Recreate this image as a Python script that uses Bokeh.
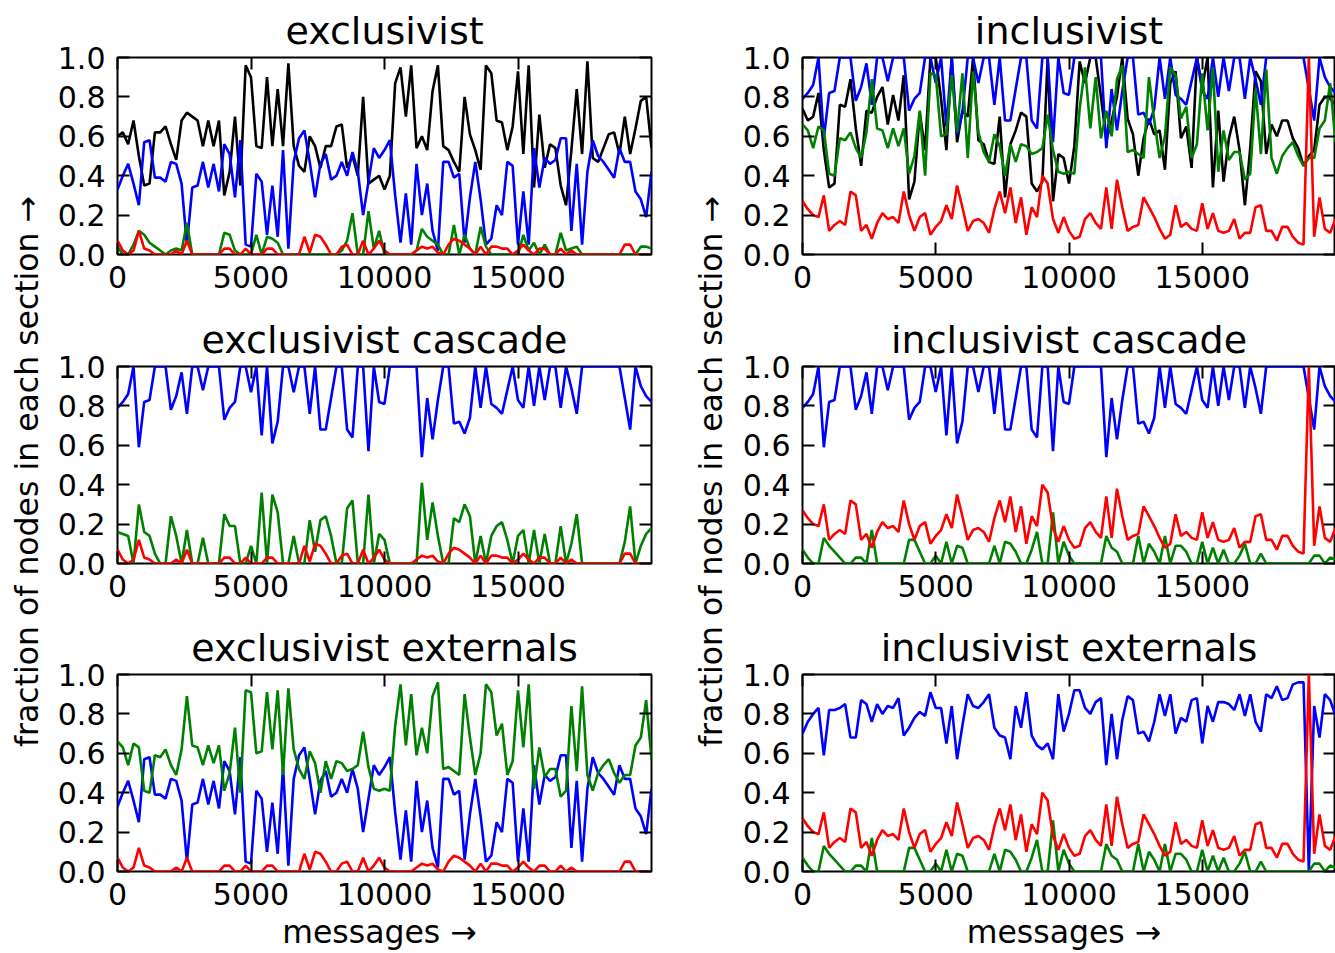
import math
from bokeh.plotting import figure
from bokeh.layouts import row, column
from bokeh.models import Range1d, LinearAxis, FixedTicker, PrintfTickFormatter, Label
from bokeh.embed import file_html
from bokeh.resources import INLINE

# ---------------- data ----------------
messages = list(range(0, 20001, 200))
x_ticks = [0, 5000, 10000, 15000]
y_ticks = [0.0, 0.2, 0.4, 0.6, 0.8, 1.0]

excl_black = [0.60, 0.62, 0.56, 0.68, 0.50, 0.35, 0.36, 0.62, 0.62, 0.65, 0.56,
              0.48, 0.68, 0.72, 0.70, 0.68, 0.55, 0.68, 0.55, 0.68, 0.30,
              0.42, 0.70, 0.35, 0.96, 0.90, 0.55, 0.54, 0.90, 0.55, 0.84,
              0.55, 0.97, 0.55, 0.45, 0.42, 0.60, 0.55, 0.44, 0.55, 0.55,
              0.65, 0.66, 0.44, 0.50, 0.40, 0.80, 0.36, 0.38, 0.40, 0.33,
              0.40, 0.87, 0.95, 0.70, 0.96, 0.54, 0.60, 0.53, 0.83, 0.96,
              0.55, 0.53, 0.47, 0.42, 0.80, 0.61, 0.53, 0.43, 0.96, 0.92,
              0.68, 0.67, 0.53, 0.65, 0.93, 0.51, 0.96, 0.34, 0.71, 0.44,
              0.56, 0.54, 0.35, 0.25, 0.53, 0.84, 0.51, 0.98, 0.49, 0.47,
              0.54, 0.61, 0.62, 0.51, 0.70, 0.51, 0.64, 0.78, 0.80, 0.54]

excl_blue = [0.33, 0.40, 0.46, 0.36, 0.25, 0.57, 0.58, 0.39, 0.39, 0.37, 0.47,
             0.46, 0.36, 0.05, 0.34, 0.35, 0.47, 0.34, 0.46, 0.32, 0.56,
             0.51, 0.29, 0.58, 0.05, 0.04, 0.41, 0.37, 0.10, 0.35, 0.09,
             0.53, 0.03, 0.47, 0.59, 0.63, 0.47, 0.29, 0.46, 0.51, 0.38,
             0.40, 0.47, 0.40, 0.52, 0.42, 0.20, 0.37, 0.54, 0.49, 0.53,
             0.58, 0.30, 0.06, 0.31, 0.05, 0.46, 0.20, 0.36, 0.12, 0.02,
             0.47, 0.47, 0.39, 0.41, 0.06, 0.29, 0.47, 0.28, 0.05, 0.08,
             0.25, 0.20, 0.47, 0.45, 0.05, 0.32, 0.05, 0.54, 0.34, 0.49,
             0.46, 0.48, 0.59, 0.59, 0.12, 0.46, 0.05, 0.42, 0.58, 0.50,
             0.47, 0.43, 0.39, 0.54, 0.47, 0.47, 0.32, 0.28, 0.19, 0.42]

excl_green = [0.04, 0.00, 0.00, 0.05, 0.12, 0.10, 0.06, 0.04, 0.02, 0.00, 0.02,
              0.03, 0.02, 0.16, 0.00, 0.00, 0.00, 0.00, 0.00, 0.00, 0.11,
              0.10, 0.02, 0.00, 0.00, 0.00, 0.10, 0.00, 0.09, 0.08, 0.06,
              0.00, 0.00, 0.00, 0.00, 0.00, 0.00, 0.00, 0.00, 0.00, 0.00,
              0.00, 0.02, 0.07, 0.21, 0.00, 0.00, 0.22, 0.03, 0.12, 0.00,
              0.00, 0.00, 0.00, 0.00, 0.00, 0.02, 0.13, 0.09, 0.07, 0.05,
              0.00, 0.00, 0.15, 0.00, 0.10, 0.03, 0.00, 0.14, 0.04, 0.00,
              0.00, 0.00, 0.00, 0.00, 0.00, 0.10, 0.02, 0.06, 0.00, 0.05,
              0.00, 0.00, 0.11, 0.02, 0.03, 0.04, 0.00, 0.00, 0.00, 0.00,
              0.00, 0.00, 0.00, 0.00, 0.00, 0.00, 0.00, 0.04, 0.04, 0.03]

excl_red = [0.07, 0.02, 0.00, 0.02, 0.12, 0.03, 0.02, 0.00, 0.00, 0.00, 0.00,
            0.02, 0.00, 0.07, 0.00, 0.00, 0.00, 0.00, 0.00, 0.00, 0.03,
            0.03, 0.00, 0.00, 0.03, 0.00, 0.00, 0.00, 0.03, 0.03, 0.00,
            0.00, 0.00, 0.00, 0.00, 0.09, 0.01, 0.10, 0.09, 0.05, 0.00,
            0.00, 0.04, 0.05, 0.00, 0.00, 0.07, 0.00, 0.03, 0.07, 0.02,
            0.00, 0.00, 0.00, 0.00, 0.00, 0.02, 0.04, 0.03, 0.04, 0.01,
            0.00, 0.05, 0.08, 0.07, 0.05, 0.03, 0.00, 0.04, 0.00, 0.04,
            0.04, 0.03, 0.03, 0.00, 0.02, 0.05, 0.02, 0.00, 0.03, 0.03,
            0.00, 0.00, 0.03, 0.00, 0.02, 0.00, 0.00, 0.00, 0.00, 0.00,
            0.00, 0.00, 0.00, 0.00, 0.05, 0.05, 0.00, 0.00, 0.00, 0.00]

casc_blue = [0.79, 0.82, 0.86, 1.00, 0.59, 0.82, 0.83, 1.00, 1.00, 1.00, 0.78,
             0.85, 0.97, 0.76, 1.00, 1.00, 0.88, 1.00, 1.00, 1.00, 0.73,
             0.79, 0.82, 1.00, 1.00, 0.87, 1.00, 0.65, 1.00, 0.61, 0.72,
             1.00, 1.00, 0.87, 1.00, 1.00, 0.76, 1.00, 0.68, 0.68, 0.84,
             1.00, 1.00, 0.68, 0.64, 1.00, 1.00, 0.57, 1.00, 0.82, 0.81,
             1.00, 1.00, 1.00, 1.00, 1.00, 1.00, 0.54, 0.84, 0.63, 0.83,
             1.00, 1.00, 0.71, 0.72, 0.66, 0.74, 1.00, 0.79, 1.00, 0.81,
             0.79, 0.76, 0.88, 1.00, 0.83, 0.79, 1.00, 0.80, 1.00, 0.83,
             1.00, 1.00, 0.79, 1.00, 0.89, 0.76, 1.00, 1.00, 1.00, 1.00,
             1.00, 1.00, 1.00, 1.00, 0.84, 0.68, 1.00, 0.90, 0.85, 0.82]

excl_casc_green = [0.16, 0.15, 0.14, 0.00, 0.30, 0.16, 0.14, 0.05, 0.00, 0.00, 0.24,
                   0.14, 0.00, 0.17, 0.00, 0.00, 0.13, 0.00, 0.00, 0.00, 0.25,
                   0.19, 0.19, 0.00, 0.00, 0.09, 0.00, 0.36, 0.00, 0.35, 0.26,
                   0.00, 0.00, 0.14, 0.00, 0.00, 0.22, 0.06, 0.22, 0.24, 0.14,
                   0.00, 0.00, 0.28, 0.32, 0.00, 0.00, 0.35, 0.00, 0.15, 0.12,
                   0.00, 0.00, 0.00, 0.00, 0.00, 0.00, 0.41, 0.12, 0.31, 0.14,
                   0.00, 0.00, 0.23, 0.21, 0.30, 0.24, 0.00, 0.14, 0.00, 0.14,
                   0.19, 0.21, 0.12, 0.00, 0.14, 0.17, 0.00, 0.17, 0.00, 0.15,
                   0.00, 0.00, 0.19, 0.00, 0.10, 0.25, 0.00, 0.00, 0.00, 0.00,
                   0.00, 0.00, 0.00, 0.00, 0.11, 0.29, 0.00, 0.09, 0.15, 0.18]

excl_ext_green = [0.66, 0.63, 0.54, 0.65, 0.63, 0.41, 0.40, 0.59, 0.58, 0.62, 0.54,
                  0.49, 0.62, 0.89, 0.64, 0.63, 0.54, 0.64, 0.55, 0.64, 0.41,
                  0.50, 0.73, 0.40, 0.92, 0.91, 0.60, 0.61, 0.91, 0.62, 0.92,
                  0.49, 0.93, 0.62, 0.52, 0.47, 0.61, 0.55, 0.40, 0.56, 0.47,
                  0.56, 0.55, 0.51, 0.52, 0.54, 0.71, 0.53, 0.42, 0.41, 0.42,
                  0.41, 0.74, 0.95, 0.64, 0.90, 0.59, 0.73, 0.60, 0.89, 0.96,
                  0.52, 0.53, 0.51, 0.49, 0.90, 0.68, 0.49, 0.60, 0.95, 0.91,
                  0.69, 0.75, 0.49, 0.56, 0.92, 0.63, 0.95, 0.42, 0.63, 0.48,
                  0.52, 0.52, 0.38, 0.41, 0.84, 0.51, 0.94, 0.49, 0.41, 0.50,
                  0.54, 0.57, 0.50, 0.45, 0.49, 0.49, 0.64, 0.68, 0.87, 0.57]

incl_black = [0.74, 0.68, 0.70, 0.82, 0.53, 0.34, 0.36, 0.76, 0.75, 0.89, 0.64,
              0.45, 0.73, 0.72, 0.80, 0.85, 0.66, 0.81, 0.68, 0.91, 0.28,
              0.37, 0.72, 0.53, 1.00, 1.00, 0.79, 0.53, 1.00, 0.57, 0.73,
              0.70, 1.00, 0.58, 0.56, 0.47, 0.46, 0.70, 0.29, 0.56, 0.63,
              0.72, 0.70, 0.36, 0.32, 0.37, 1.00, 0.27, 0.51, 0.49, 0.36,
              0.55, 0.98, 0.87, 1.00, 1.00, 0.80, 0.58, 0.68, 0.80, 1.00,
              0.69, 0.61, 0.40, 0.59, 0.69, 0.61, 0.63, 0.43, 0.87, 0.93,
              0.59, 0.65, 0.44, 1.00, 0.85, 1.00, 0.34, 0.73, 0.37, 0.59,
              0.70, 0.53, 0.25, 0.54, 0.93, 0.88, 0.51, 0.66, 0.60, 0.68,
              0.68, 0.59, 0.54, 0.45, 0.50, 0.53, 0.76, 0.80, 0.79, 0.76]

incl_red = [0.27, 0.23, 0.20, 0.19, 0.30, 0.12, 0.15, 0.17, 0.15, 0.32, 0.30,
            0.12, 0.15, 0.08, 0.16, 0.21, 0.18, 0.19, 0.16, 0.32, 0.20,
            0.12, 0.19, 0.21, 0.10, 0.14, 0.17, 0.25, 0.18, 0.35, 0.24,
            0.12, 0.17, 0.18, 0.16, 0.11, 0.23, 0.32, 0.21, 0.34, 0.16,
            0.29, 0.10, 0.24, 0.19, 0.40, 0.36, 0.18, 0.11, 0.19, 0.12,
            0.08, 0.09, 0.18, 0.21, 0.16, 0.13, 0.34, 0.13, 0.38, 0.24,
            0.12, 0.14, 0.15, 0.29, 0.24, 0.19, 0.13, 0.08, 0.10, 0.25,
            0.14, 0.16, 0.13, 0.12, 0.26, 0.13, 0.21, 0.12, 0.11, 0.12,
            0.18, 0.08, 0.11, 0.11, 0.24, 0.25, 0.12, 0.12, 0.07, 0.14,
            0.14, 0.09, 0.06, 0.05, 1.00, 0.09, 0.29, 0.13, 0.11, 0.18]

incl_green = [0.07, 0.03, 0.00, 0.00, 0.13, 0.09, 0.06, 0.03, 0.00, 0.00, 0.03,
              0.03, 0.00, 0.17, 0.00, 0.00, 0.00, 0.00, 0.00, 0.00, 0.12,
              0.12, 0.06, 0.00, 0.00, 0.04, 0.00, 0.11, 0.00, 0.09, 0.08,
              0.00, 0.00, 0.00, 0.00, 0.00, 0.09, 0.00, 0.11, 0.10, 0.06,
              0.00, 0.00, 0.07, 0.16, 0.00, 0.00, 0.26, 0.00, 0.11, 0.04,
              0.00, 0.00, 0.00, 0.00, 0.00, 0.00, 0.14, 0.08, 0.06, 0.00,
              0.00, 0.00, 0.14, 0.00, 0.10, 0.06, 0.00, 0.14, 0.00, 0.09,
              0.09, 0.06, 0.00, 0.00, 0.11, 0.00, 0.08, 0.00, 0.07, 0.00,
              0.00, 0.04, 0.10, 0.00, 0.00, 0.05, 0.00, 0.00, 0.00, 0.00,
              0.00, 0.00, 0.00, 0.00, 0.00, 0.04, 0.04, 0.00, 0.03, 0.02]

incl_ext_blue = [0.70, 0.76, 0.80, 0.83, 0.59, 0.82, 0.82, 0.83, 0.85, 0.68, 0.68,
                 0.87, 0.85, 0.76, 0.85, 0.80, 0.84, 0.83, 0.88, 0.69, 0.73,
                 0.78, 0.81, 0.79, 0.91, 0.83, 0.83, 0.65, 0.84, 0.57, 0.74,
                 0.90, 0.84, 0.83, 0.86, 0.90, 0.73, 0.69, 0.68, 0.57, 0.84,
                 0.73, 0.91, 0.69, 0.64, 0.62, 0.65, 0.57, 0.90, 0.71, 0.80,
                 0.92, 0.92, 0.83, 0.80, 0.86, 0.88, 0.54, 0.80, 0.57, 0.77,
                 0.89, 0.87, 0.70, 0.71, 0.66, 0.76, 0.90, 0.79, 0.90, 0.70,
                 0.78, 0.76, 0.87, 0.88, 0.65, 0.84, 0.76, 0.86, 0.86, 0.85,
                 0.82, 0.90, 0.79, 0.90, 0.76, 0.71, 0.90, 0.88, 0.94, 0.87,
                 0.88, 0.95, 0.96, 0.96, 0.00, 0.84, 0.68, 0.90, 0.87, 0.79]

BLACK, BLUE, GREEN, RED = "#000000", "#0000ff", "#008000", "#ff0000"

panels_left = [
    ("exclusivist", [(excl_black, BLACK), (excl_blue, BLUE), (excl_green, GREEN), (excl_red, RED)]),
    ("exclusivist cascade", [(casc_blue, BLUE), (excl_casc_green, GREEN), (excl_red, RED)]),
    ("exclusivist externals", [(excl_blue, BLUE), (excl_ext_green, GREEN), (excl_red, RED)]),
]
panels_right = [
    ("inclusivist", [(incl_black, BLACK), (casc_blue, BLUE), (excl_ext_green, GREEN), (incl_red, RED)]),
    ("inclusivist cascade", [(casc_blue, BLUE), (incl_green, GREEN), (incl_red, RED)]),
    ("inclusivist externals", [(incl_ext_blue, BLUE), (incl_green, GREEN), (incl_red, RED)]),
]

FONT = "DejaVu Sans"
TICK_PX = "30px"
TITLE_PX = "38px"
LABEL_PX = "31.5px"
YLABEL = "fraction of nodes in each section  \u2192"
XLABEL = "messages  \u2192"


def style_axis(ax, labels=True):
    ax.major_tick_in = 12
    ax.major_tick_out = 0
    ax.minor_tick_in = 0
    ax.minor_tick_out = 0
    ax.major_tick_line_width = 2
    ax.major_tick_line_color = "black"
    ax.axis_line_color = None
    if labels:
        ax.major_label_text_font = FONT
        ax.major_label_text_font_size = TICK_PX
        ax.major_label_text_color = "black"
    else:
        ax.major_label_text_font_size = "1px"
        ax.major_label_text_color = None
        ax.major_label_standoff = 0


def make_panel(title, series, width, left, right, height, top, bottom, xlabel=False):
    p = figure(width=width, height=height, x_range=Range1d(0, 20000), y_range=Range1d(0, 1),
               output_backend="svg", toolbar_location=None,
               min_border_left=left, min_border_right=right,
               min_border_top=top, min_border_bottom=bottom,
               title=title)
    p.title.text_font = FONT
    p.title.text_font_size = TITLE_PX
    p.title.text_font_style = "normal"
    p.title.text_color = "black"
    p.title.align = "center"
    p.title.standoff = 10
    p.background_fill_color = "white"
    p.border_fill_color = "white"
    p.outline_line_color = "black"
    p.outline_line_width = 2
    p.xgrid.visible = False
    p.ygrid.visible = False

    xax = p.below[0]
    yax = p.left[0]
    xax.ticker = FixedTicker(ticks=x_ticks)
    yax.ticker = FixedTicker(ticks=y_ticks)
    yax.formatter = PrintfTickFormatter(format="%.1f")
    style_axis(xax)
    xax.major_label_standoff = 11
    style_axis(yax)
    yax.major_label_standoff = 12

    top_ax = LinearAxis(ticker=FixedTicker(ticks=x_ticks))
    style_axis(top_ax, labels=False)
    p.add_layout(top_ax, "above")
    right_ax = LinearAxis(ticker=FixedTicker(ticks=y_ticks))
    style_axis(right_ax, labels=False)
    p.add_layout(right_ax, "right")

    if xlabel:
        xax.axis_label = XLABEL
        xax.axis_label_text_font = FONT
        xax.axis_label_text_font_size = LABEL_PX
        xax.axis_label_text_font_style = "normal"
        xax.axis_label_text_color = "black"
        xax.axis_label_standoff = 6

    for ys, color in series:
        p.line(messages, ys, line_color=color, line_width=2.6)
    return p


def make_ylabel(width, height, cx, cy_top):
    p = figure(width=width, height=height, x_range=Range1d(0, width), y_range=Range1d(0, height),
               output_backend="svg", toolbar_location=None, min_border=0,
               x_axis_type=None, y_axis_type=None)
    p.outline_line_color = None
    p.border_fill_color = "white"
    p.background_fill_color = "white"
    p.add_layout(Label(x=cx, y=height - cy_top, text=YLABEL, angle=math.pi / 2,
                       text_align="center", text_baseline="middle",
                       text_font=FONT, text_font_size=LABEL_PX, text_color="black"))
    return p


# (figure height, top border, bottom border): frames at y = 57, 366, 674, each 197 px tall
HEIGHTS = [(304, 57, 50), (309, 62, 50), (340, 61, 82)]
TOTAL_H = sum(h for h, _, _ in HEIGHTS)


def make_column(panels, width, left, right):
    figs = []
    for k, (title, series) in enumerate(panels):
        h, t, b = HEIGHTS[k]
        figs.append(make_panel(title, series, width, left, right, h, t, b, xlabel=(k == 2)))
    return column(*figs, spacing=0)


left_col = make_column(panels_left, 618, 64, 20)
right_col = make_column(panels_right, 597, 64, 0)
ylab_left = make_ylabel(53, TOTAL_H, 26, 466)
ylab_right = make_ylabel(67, TOTAL_H, 39, 466)

p = row(ylab_left, left_col, ylab_right, right_col, spacing=0)

open("out.html", "w").write(file_html(p, INLINE))
